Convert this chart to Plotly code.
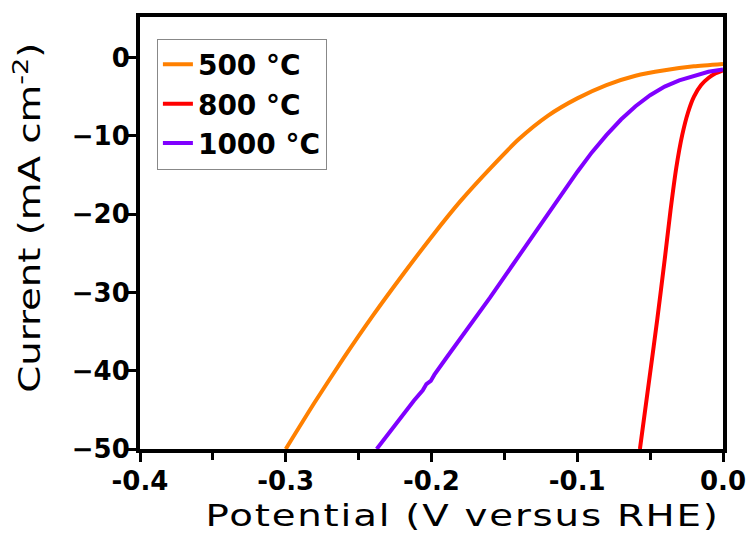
import plotly.graph_objects as go

# Polarization curves (HER) for samples annealed at different temperatures
pot_500 = [-0.30, -0.28, -0.26, -0.24, -0.22, -0.20, -0.18, -0.16, -0.14, -0.12, -0.10, -0.08, -0.06, -0.04, -0.02, 0.0]
cur_500 = [-50.0, -44.0, -38.3, -32.9, -27.8, -22.9, -18.3, -14.2, -10.4, -7.4, -5.2, -3.5, -2.3, -1.6, -1.1, -0.8]

pot_800 = [-0.057, -0.050, -0.045, -0.040, -0.036, -0.032, -0.028, -0.024, -0.020, -0.015, -0.010, -0.005, 0.0]
cur_800 = [-50.0, -40.3, -33.3, -25.8, -19.5, -14.0, -9.9, -7.0, -5.0, -3.5, -2.6, -2.0, -1.6]

pot_1000 = [-0.2376, -0.228, -0.22, -0.212, -0.206, -0.2035, -0.2005, -0.198, -0.19, -0.18, -0.17, -0.16, -0.15,
            -0.14, -0.13, -0.12, -0.11, -0.10, -0.09, -0.08, -0.07, -0.06, -0.05, -0.04, -0.03, -0.02, -0.01, 0.0]
cur_1000 = [-50.0, -47.7, -45.6, -43.8, -42.5, -41.7, -41.3, -40.5, -38.4, -35.9, -33.3, -30.7, -28.0,
            -25.3, -22.6, -19.9, -17.2, -14.6, -12.1, -9.9, -7.9, -6.2, -4.8, -3.7, -2.9, -2.3, -1.8, -1.5]

series = [
    ("500 °C", pot_500, cur_500, "#FF8000", "spline"),
    ("800 °C", pot_800, cur_800, "#FF0000", "spline"),
    ("1000 °C", pot_1000, cur_1000, "#8000FF", "linear"),
]

x_ticks = [-0.4, -0.3, -0.2, -0.1, 0.0]
x_tick_labels = ["-0.4", "-0.3", "-0.2", "-0.1", "0.0"]
y_ticks = [0, -10, -20, -30, -40, -50]

x_title = "Potential (V versus RHE)"
y_title = "Current (mA cm<sup>-2</sup>)"

FONT = "DejaVu Sans, Liberation Sans, sans-serif"

fig = go.Figure()
for name, xs, ys, color, shape in series:
    line = dict(color=color, width=4, shape=shape)
    if shape == "spline":
        line["smoothing"] = 0.6
    fig.add_trace(go.Scatter(x=xs, y=ys, name=name, mode="lines", legendgroup=name, line=line))

fig.update_layout(
    width=751, height=538,
    margin=dict(l=140, r=28, t=17, b=89),
    paper_bgcolor="white", plot_bgcolor="white",
    font=dict(family=FONT, color="black"),
    legend=dict(
        x=0.029, y=0.95, xanchor="left", yanchor="top",
        bgcolor="white", bordercolor="#888888", borderwidth=1,
        font=dict(family=FONT, size=28, color="black", weight="bold"),
        tracegroupgap=0, itemwidth=30,
    ),
    showlegend=True,
)

# Axis titles as paper-anchored text
fig.add_annotation(
    text=x_title, xref="paper", yref="paper", x=0.553, y=-0.1535,
    xanchor="center", yanchor="middle", showarrow=False,
    font=dict(family=FONT, size=30, color="black"),
)
fig.add_annotation(
    text=y_title, xref="paper", yref="paper", x=-0.191, y=0.535,
    xanchor="center", yanchor="middle", showarrow=False, textangle=-90,
    font=dict(family=FONT, size=30, color="black"),
)

fig.update_xaxes(
    range=[-0.4, 0.0], automargin=False,
    tickvals=x_ticks, ticktext=x_tick_labels,
    ticks="outside", ticklen=9, tickwidth=3, tickcolor="black",
    ticklabelstandoff=-3,
    minor=dict(dtick=0.05, tick0=0, ticks="outside", ticklen=7, tickwidth=3, tickcolor="black"),
    showline=True, linewidth=4, linecolor="black", mirror=True,
    showgrid=False, zeroline=False,
    tickfont=dict(family=FONT, size=26, color="black", weight="bold"),
)

fig.update_yaxes(
    range=[-50, 5.2], automargin=False,
    tickvals=y_ticks,
    ticks="outside", ticklen=9, tickwidth=3, tickcolor="black",
    ticklabelstandoff=-8,
    showline=True, linewidth=4, linecolor="black", mirror=True,
    showgrid=False, zeroline=False,
    tickfont=dict(family=FONT, size=26, color="black", weight="bold"),
)

# Broad lettering for the axis titles: horizontal stretch about each text's own centre
title_js = """
function widen(idx, factor, spacing) {
  document.querySelectorAll('g.annotation[data-index="' + idx + '"] text.annotation-text').forEach(function (t) {
    t.style.transformBox = 'fill-box';
    t.style.transformOrigin = 'center';
    t.style.transform = 'scaleX(' + factor + ')';
    t.style.letterSpacing = spacing;
  });
}
widen(0, 1.29, '1.4px');
widen(1, 1.29, '0px');
"""

fig.write_html("out.html", post_script=title_js)
